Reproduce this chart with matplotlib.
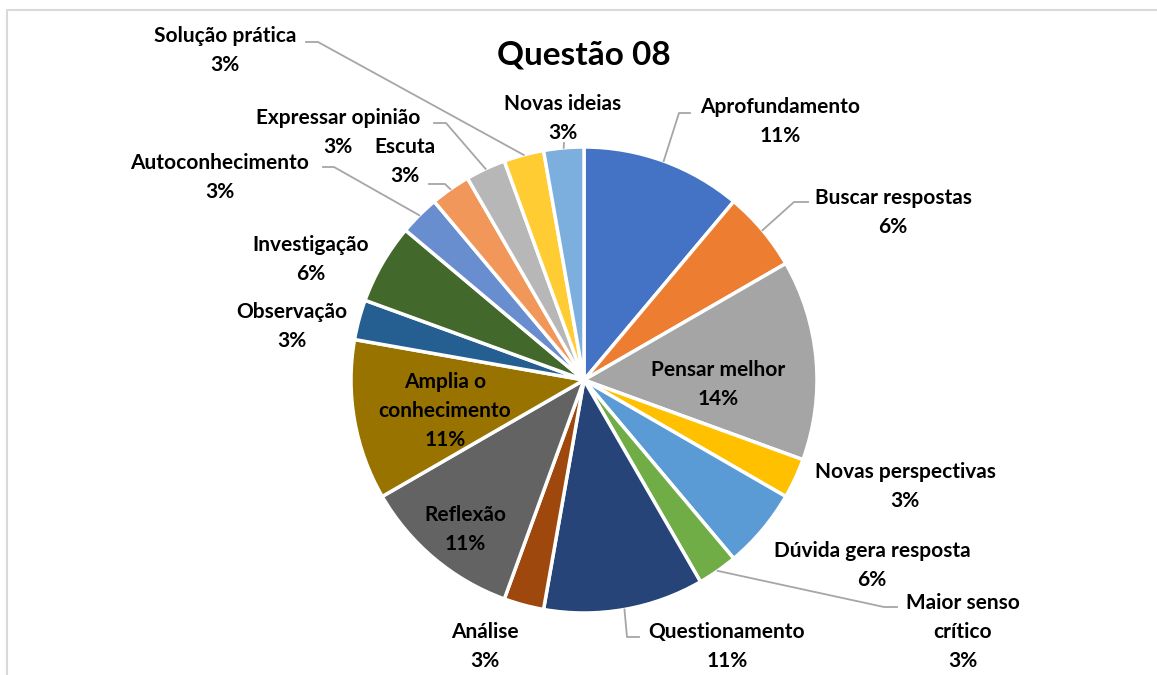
import matplotlib.pyplot as plt
import numpy as np

# answers per category (36 in total), clockwise from the top
categories = ["Aprofundamento", "Buscar respostas", "Pensar melhor", "Novas perspectivas",
              "Dúvida gera resposta", "Maior senso\ncrítico", "Questionamento", "Análise",
              "Reflexão", "Amplia o\nconhecimento", "Observação", "Investigação",
              "Autoconhecimento", "Escuta", "Expressar opinião", "Solução prática", "Novas ideias"]
counts = [4, 2, 5, 1, 2, 1, 4, 1, 4, 4, 1, 2, 1, 1, 1, 1, 1]
colors = ["#4472C4", "#ED7D31", "#A5A5A5", "#FFC000", "#5B9BD5", "#70AD47", "#264478",
          "#9E480E", "#636363", "#997300", "#255E91", "#43682B", "#698ED0", "#F1975A",
          "#B7B7B7", "#FFCD33", "#7CAFDD"]

W, H = 1157, 675
cx, cy, r = 584, 380, 233

# label positions in pixels (x, y of first line centre) and leader elbows
label_pos = [(780, 107), (893, 198), (718, 370), (905, 472), (872, 551), (963, 603),
             (727, 632), (485, 632), (465, 515), (445, 382), (292, 312), (311, 245),
             (220, 163), (405, 147), (338, 118), (225, 36), (563, 104)]
leaders = {0: [(690, 113), (679, 113)], 1: [(808, 202), (794, 202)],
           5: [(897, 607), (884, 607)], 6: [(639, 637), (627, 637)],
           12: [(323, 167), (334, 167)], 13: [(429, 184), (445, 184)],
           14: [(434, 123), (446, 123)], 15: [(306, 42), (318, 42)],
           16: [(564, 143)]}

plt.rcParams['font.family'] = ['Lato', 'DejaVu Sans']

fig = plt.figure(figsize=(W / 100, H / 100), dpi=100)
ax = fig.add_axes([0, 0, 1, 1])

ax.pie(counts, colors=colors, startangle=90, counterclock=False,
       center=(cx, H - cy), radius=r, frame=True,
       wedgeprops=dict(edgecolor='white', linewidth=2.5))
ax.set_xlim(0, W)
ax.set_ylim(0, H)
ax.set_aspect('equal')
ax.axis('off')

total = sum(counts)
cum = np.cumsum([0] + counts)
for i, (name, c) in enumerate(zip(categories, counts)):
    pct = round(c / total * 100)
    lx, ly = label_pos[i]
    lines = name.split("\n") + [f"{pct}%"]
    for k, line in enumerate(lines):
        ax.text(lx, H - (ly + k * 29), line, ha='center', va='center',
                fontsize=15, fontweight='bold', color='black')
    if i in leaders:
        mid = np.deg2rad((cum[i] + c / 2) / total * 360)
        ex, ey = cx + r * np.sin(mid), cy - r * np.cos(mid)
        pts = leaders[i] + [(ex, ey)]
        ax.plot([p[0] for p in pts], [H - p[1] for p in pts], color='#A6A6A6', lw=1.3)

ax.text(584, H - 55, "Questão 08", ha='center', va='center',
        fontsize=24, fontweight='bold', color='black')

# chart frame
ax.plot([7, 7, W], [0, H - 10, H - 10], color='#D9D9D9', lw=1.5)

fig.savefig("out.png", dpi=100)
